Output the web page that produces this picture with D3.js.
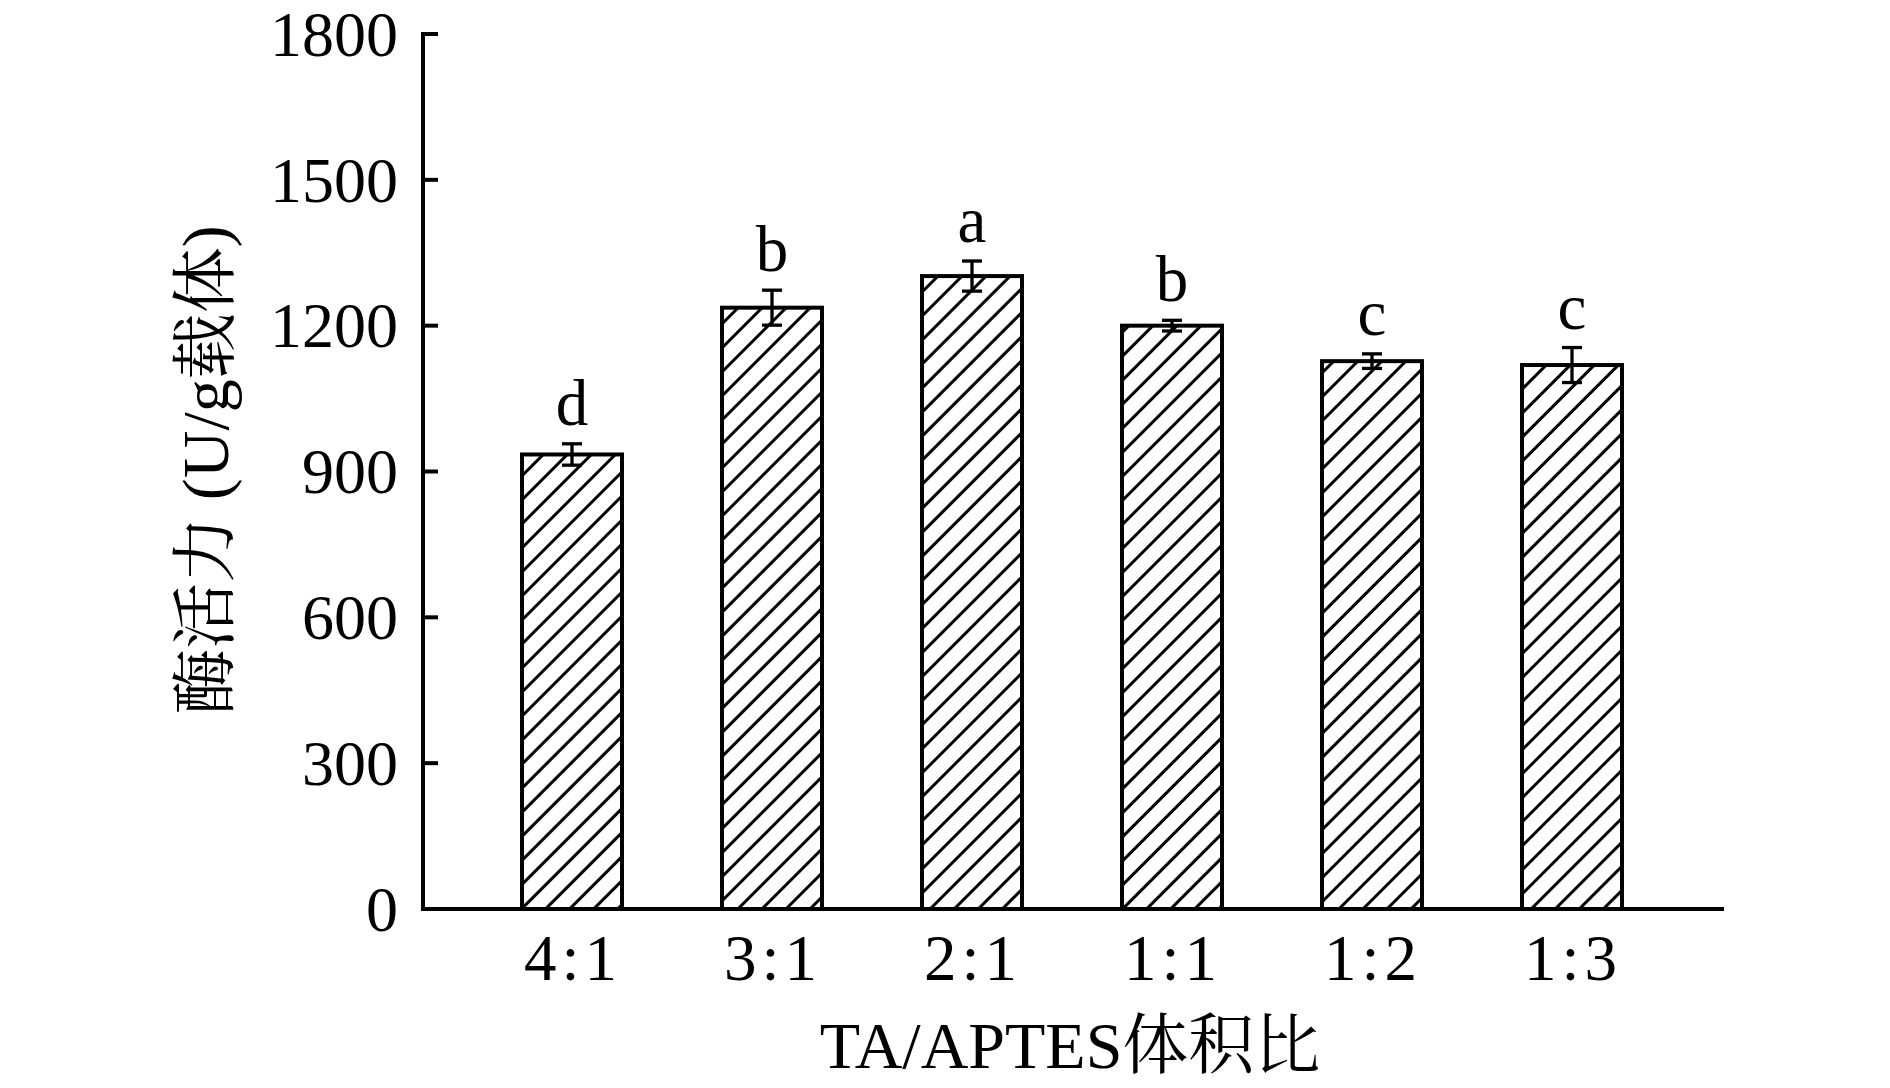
<!DOCTYPE html>
<html>
<head>
<meta charset="UTF-8">
<title>酶活力</title>
<script src="https://d3js.org/d3.v7.min.js"></script>
<style>
  body { margin: 0; background: #fff; }
  text { font-family: "Liberation Serif", "Times New Roman", serif; fill: #000; }
  .cjk { font-family: "Liberation Serif", "Noto Serif CJK SC", "Noto Sans CJK SC", serif; }
</style>
</head>
<body>
<svg id="chart" width="1890" height="1088"></svg>
<script>
// data
const ratios = ["4:1", "3:1", "2:1", "1:1", "1:2", "1:3"];
const activity = [935, 1237, 1302, 1200, 1127, 1119];
const errors = [22, 36, 31, 11, 15, 36];
const letters = ["d", "b", "a", "b", "c", "c"];
const yTicks = [0, 300, 600, 900, 1200, 1500, 1800];

const svg = d3.select("#chart");
const axisX0 = 423, axisX1 = 1724, axisY = 909;

const x = d3.scaleBand().domain(ratios).range([472, 1672]).paddingInner(0.5).paddingOuter(0.25);
const y = d3.scaleLinear().domain([0, 1800]).range([axisY, 34]);

// hatch pattern
const defs = svg.append("defs");
defs.append("pattern")
    .attr("id", "hatch")
    .attr("patternUnits", "userSpaceOnUse")
    .attr("width", 17).attr("height", 17)
    .attr("patternTransform", "rotate(45)")
  .append("line")
    .attr("x1", 8.5).attr("y1", -2).attr("x2", 8.5).attr("y2", 20)
    .attr("stroke", "#000").attr("stroke-width", 3);

// bars
const bw = x.bandwidth();
svg.append("g").selectAll("rect")
  .data(ratios)
  .join("rect")
    .attr("x", d => x(d))
    .attr("y", (d, i) => y(activity[i]))
    .attr("width", bw)
    .attr("height", (d, i) => axisY - y(activity[i]))
    .attr("fill", "url(#hatch)")
    .attr("stroke", "#000")
    .attr("stroke-width", 4);

// error bars
const eb = svg.append("g").attr("stroke", "#000").attr("stroke-width", 3.3);
ratios.forEach((d, i) => {
  const cx = x(d) + bw / 2;
  const top = y(activity[i] + errors[i]), bot = y(activity[i] - errors[i]);
  eb.append("line").attr("x1", cx).attr("x2", cx).attr("y1", top).attr("y2", bot);
  eb.append("line").attr("x1", cx - 10).attr("x2", cx + 10).attr("y1", top).attr("y2", top);
  eb.append("line").attr("x1", cx - 10).attr("x2", cx + 10).attr("y1", bot).attr("y2", bot);
});

// significance letters
svg.append("g").selectAll("text")
  .data(ratios)
  .join("text")
    .attr("x", d => x(d) + bw / 2)
    .attr("y", (d, i) => y(activity[i] + errors[i]) - 19)
    .attr("text-anchor", "middle")
    .attr("font-size", 65)
    .text((d, i) => letters[i]);

// y axis
const yAxis = svg.append("g");
yAxis.append("line")
    .attr("x1", axisX0).attr("x2", axisX0).attr("y1", y(1800) - 2).attr("y2", axisY + 2)
    .attr("stroke", "#000").attr("stroke-width", 4);
yAxis.selectAll("line.tick")
  .data(yTicks)
  .join("line")
    .attr("class", "tick")
    .attr("x1", axisX0).attr("x2", axisX0 + 15)
    .attr("y1", d => y(d)).attr("y2", d => y(d))
    .attr("stroke", "#000").attr("stroke-width", 4);
yAxis.selectAll("text")
  .data(yTicks)
  .join("text")
    .attr("x", axisX0 - 25)
    .attr("y", d => y(d))
    .attr("dy", "0.34em")
    .attr("text-anchor", "end")
    .attr("font-size", 64)
    .text(d => d);

// x axis
svg.append("line")
    .attr("x1", axisX0 - 2).attr("x2", axisX1).attr("y1", axisY).attr("y2", axisY)
    .attr("stroke", "#000").attr("stroke-width", 4);
svg.append("g").selectAll("text")
  .data(ratios)
  .join("text")
    .attr("x", d => x(d) + bw / 2 + 1)
    .attr("y", 980)
    .attr("text-anchor", "middle")
    .attr("font-size", 65)
    .attr("letter-spacing", 5)
    .text(d => d);

// axis titles
svg.append("text")
    .attr("class", "cjk")
    .attr("x", 1070).attr("y", 1068)
    .attr("text-anchor", "middle")
    .attr("font-size", 66)
    .text("TA/APTES体积比");

svg.append("text")
    .attr("class", "cjk")
    .attr("transform", "translate(228,470) rotate(-90)")
    .attr("text-anchor", "middle")
    .attr("font-size", 66)
    .text("酶活力 (U/g载体)");
</script>
</body>
</html>
